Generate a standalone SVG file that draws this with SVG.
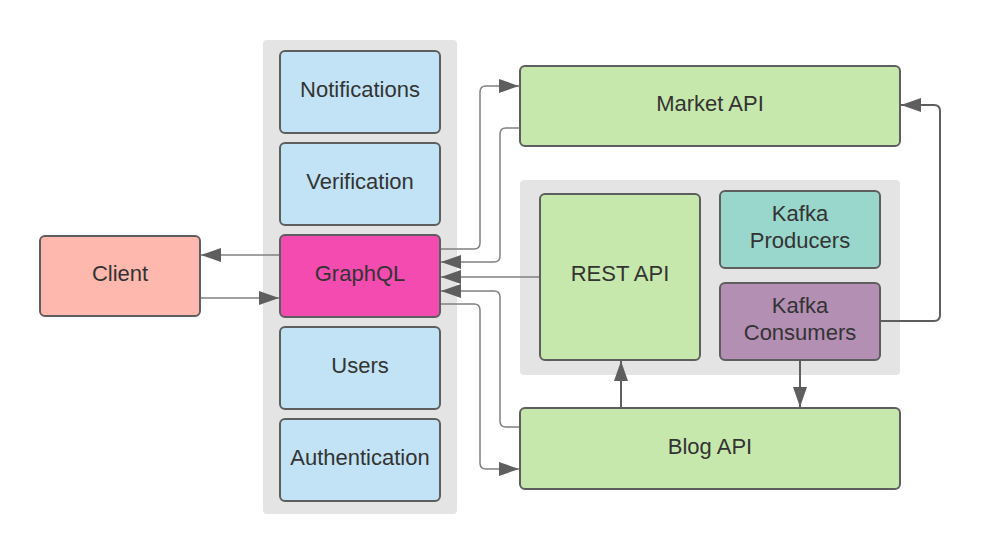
<svg xmlns="http://www.w3.org/2000/svg" width="981" height="555" viewBox="0 0 981 555">
<defs>
<style>
.grp{fill:#e4e4e4;}
.n{stroke:#5e5e5e;stroke-width:2;}
.t{font-family:"Liberation Sans",Arial,sans-serif;font-size:22px;fill:#333333;text-anchor:middle;}
.c{fill:none;stroke:#808080;stroke-width:1.5;}
.d{fill:none;stroke:#5e5e5e;stroke-width:2;}
.blue{fill:#c2e3f5;}
.green{fill:#c7e8ac;}
</style>
<marker id="ah" viewBox="0 0 20 14" refX="20" refY="7" markerWidth="20" markerHeight="14" markerUnits="userSpaceOnUse" orient="auto">
<path d="M0,0 L20,7 L0,14 Z" fill="#5e5e5e"/>
</marker>
</defs>
<rect width="981" height="555" fill="#ffffff"/>
<g id="containers">
<rect class="grp" x="263" y="40" width="194" height="474" rx="4"/>
<rect class="grp" x="520" y="180" width="380" height="195" rx="4"/>
</g>
<g id="connectors">
<path class="c" d="M280,255 H201" marker-end="url(#ah)"/>
<path class="c" d="M200,298 H279" marker-end="url(#ah)"/>
<path class="c" d="M440,249 H474 Q480,249 480,243 V92 Q480,86 486,86 H519" marker-end="url(#ah)"/>
<path class="c" d="M520,128 H506 Q500,128 500,134 V256 Q500,262 494,262 H441" marker-end="url(#ah)"/>
<path class="c" d="M540,277 H441" marker-end="url(#ah)"/>
<path class="c" d="M520,427 H506 Q500,427 500,421 V297 Q500,291 494,291 H441" marker-end="url(#ah)"/>
<path class="c" d="M440,304 H474 Q480,304 480,310 V463 Q480,469 486,469 H519" marker-end="url(#ah)"/>
<path class="d" d="M880,321 H934 Q940,321 940,315 V111 Q940,105 934,105 H901" marker-end="url(#ah)"/>
<path class="d" d="M621,408 V361" marker-end="url(#ah)"/>
<path class="d" d="M800,360 V407" marker-end="url(#ah)"/>
</g>
<g id="client">
<rect class="n" x="40" y="236" width="160" height="80" rx="5" fill="#ffb8ae"/>
<text class="t" x="120" y="281">Client</text>
</g>
<g id="notifications">
<rect class="n blue" x="280" y="51" width="160" height="82" rx="5"/>
<text class="t" x="360" y="97">Notifications</text>
</g>
<g id="verification">
<rect class="n blue" x="280" y="143" width="160" height="82" rx="5"/>
<text class="t" x="360" y="189">Verification</text>
</g>
<g id="graphql">
<rect class="n" x="280" y="235" width="160" height="82" rx="5" fill="#f34bb0"/>
<text class="t" x="360" y="281">GraphQL</text>
</g>
<g id="users">
<rect class="n blue" x="280" y="327" width="160" height="82" rx="5"/>
<text class="t" x="360" y="373">Users</text>
</g>
<g id="authentication">
<rect class="n blue" x="280" y="419" width="160" height="82" rx="5"/>
<text class="t" x="360" y="465">Authentication</text>
</g>
<g id="market-api">
<rect class="n green" x="520" y="66" width="380" height="80" rx="5"/>
<text class="t" x="710" y="111">Market API</text>
</g>
<g id="rest-api">
<rect class="n green" x="540" y="194" width="160" height="166" rx="5"/>
<text class="t" x="620" y="281">REST API</text>
</g>
<g id="kafka-producers">
<rect class="n" x="720" y="191" width="160" height="77" rx="5" fill="#99d6cb"/>
<text class="t" x="800" y="221">Kafka</text>
<text class="t" x="800" y="248">Producers</text>
</g>
<g id="kafka-consumers">
<rect class="n" x="720" y="283" width="160" height="77" rx="5" fill="#b38fb4"/>
<text class="t" x="800" y="313">Kafka</text>
<text class="t" x="800" y="340">Consumers</text>
</g>
<g id="blog-api">
<rect class="n green" x="520" y="408" width="380" height="81" rx="5"/>
<text class="t" x="710" y="454">Blog API</text>
</g>
</svg>
